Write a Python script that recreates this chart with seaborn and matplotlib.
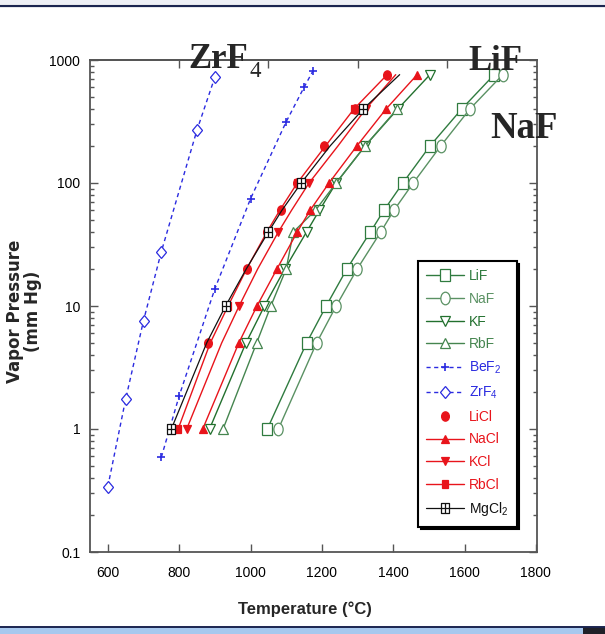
import matplotlib
matplotlib.use("Agg")
import numpy as np
import pandas as pd
import seaborn as sns
import matplotlib.pyplot as plt
from matplotlib.path import Path
from matplotlib.markers import MarkerStyle
from matplotlib.transforms import Affine2D
from matplotlib.patches import Rectangle
from matplotlib.lines import Line2D
from matplotlib.ticker import LogLocator, NullFormatter

sns.set_style("ticks")
plt.rcParams['font.family'] = ['Liberation Sans Narrow', 'Liberation Sans', 'DejaVu Sans']
plt.rcParams['mathtext.default'] = 'regular'

# ---------------- data (pressure in mm Hg, temperature in deg C) ----------------
pressure = [1, 5, 10, 20, 40, 60, 100, 200, 400, 760]
lif_T = [1047, 1157, 1212, 1270, 1336, 1374, 1427, 1503, 1592, 1683]
naf_T = [1078, 1185, 1240, 1299, 1365, 1402, 1456, 1533, 1615, 1707]
kf_T = [885, 987, 1039, 1096, 1157, 1193, 1240, 1321, 1413, 1503]
rbf_P = [1, 5, 10, 20, 40, 60, 100, 200, 400]
rbf_T = [923, 1017, 1057, 1100, 1120, 1182, 1240, 1321, 1411]
bef2_T = [750, 800, 900, 1000, 1100, 1150, 1175]
bef2_P = [0.59, 1.86, 13.8, 74.5, 315, 600, 815]
zrf4_T = [600, 650, 700, 750, 850, 900]
zrf4_P = [0.34, 1.75, 7.6, 27.7, 270, 725]
licl_T = [783, 881, 932, 989, 1045, 1084, 1131, 1207, 1293, 1382]
nacl_T = [866, 967, 1018, 1074, 1131, 1167, 1220, 1298, 1380, 1467]
kcl_T = [821, 919, 968, 1020, 1078, 1115, 1164, 1245, 1323, 1407]
rbcl_T = [797, 887, 937, 989, 1046, 1082, 1131, 1210, 1290, 1383]
mgcl2_T = [778, 877, 930, 988, 1050, 1088, 1142, 1223, 1316, 1418]

x_ticks = [600, 800, 1000, 1200, 1400, 1600, 1800]
y_ticks = [0.1, 1, 10, 100, 1000]
y_tick_labels = ['0.1', '1', '10', '100', '1000']

# ---------------- styles ----------------
GREEN_LIF = '#2f7b3f'
GREEN_NAF = '#5a9163'
GREEN_KF = '#22702e'
GREEN_RBF = '#45854f'
BLUE = '#2b2be0'
RED = '#e8141b'
BLACK = '#111111'

def mk(base, sy=1.0):
    return MarkerStyle(base, transform=Affine2D().scale(1.0, sy))

boxplus_path = Path(
    [(-0.78, -1), (0.78, -1), (0.78, 1), (-0.78, 1), (-0.78, -1),
     (0, -1), (0, 1), (-0.78, 0), (0.78, 0)],
    [Path.MOVETO, Path.LINETO, Path.LINETO, Path.LINETO, Path.CLOSEPOLY,
     Path.MOVETO, Path.LINETO, Path.MOVETO, Path.LINETO])

fig = plt.figure(figsize=(6.05, 6.34), dpi=100)
ax = fig.add_axes([90 / 605, 1 - 552 / 634, 447 / 605, 492 / 634])
ax.set_yscale('log')


def draw(T, P, label, color, marker, ms, ls='-', face='white', markevery=None,
         lw=1.0, mew=0.9, zorder=2):
    kws = dict(color=color, marker=marker, markersize=ms, markerfacecolor=face,
               markeredgecolor=color, markeredgewidth=mew, linewidth=lw,
               linestyle=ls, label=label, zorder=zorder)
    if markevery is not None:
        kws['markevery'] = markevery
    df = pd.DataFrame({'T': T, 'P': P})
    sns.lineplot(data=df, x='T', y='P', ax=ax, sort=False, estimator=None,
                 legend=False, **kws)


draw(lif_T, pressure, 'LiF', GREEN_LIF, mk('s', 1.25), 6.7)
draw(naf_T, pressure, 'NaF', GREEN_NAF, mk('o', 1.35), 6.7)
draw(kf_T, pressure, 'KF', GREEN_KF, 'v', 7.7)
draw(rbf_T, rbf_P, 'RbF', GREEN_RBF, '^', 7.7)
draw(bef2_T, bef2_P, 'BeF$_2$', BLUE, '+', 6.4, ls=(0, (3, 2.5)), mew=1.2, zorder=3)
draw(zrf4_T, zrf4_P, 'ZrF$_4$', BLUE, mk('D', 1.3), 4.6, ls=(0, (3, 2.5)), zorder=3)
draw(rbcl_T, pressure, 'RbCl_tmp', RED, mk('s', 1.25), 4.8, face=RED, markevery=2, zorder=3)
draw(licl_T, pressure, 'LiCl', RED, mk('o', 1.2), 5.6, ls='None', face=RED, zorder=4)
draw(nacl_T, pressure, 'NaCl', RED, '^', 5.8, face=RED, zorder=3)
draw(kcl_T, pressure, 'KCl', RED, 'v', 5.8, face=RED, markevery=2, zorder=3)
draw(mgcl2_T, pressure, 'MgCl$_2$', BLACK, MarkerStyle(boxplus_path), 7.8,
     markevery=2, lw=0.9, zorder=5)

# ---------------- axes ----------------
ax.set_xlim(550, 1803)
ax.set_ylim(0.1, 1000)
ax.set_xticks(x_ticks)
ax.set_xticklabels([str(v) for v in x_ticks])
ax.set_yticks(y_ticks)
ax.set_yticklabels(y_tick_labels)
ax.yaxis.set_minor_locator(LogLocator(base=10, subs=np.arange(2, 10)))
ax.yaxis.set_minor_formatter(NullFormatter())
ax.xaxis.set_minor_locator(matplotlib.ticker.NullLocator())

SPINE = '#555555'
for s in ax.spines.values():
    s.set_color(SPINE)
    s.set_linewidth(1.3)
ax.tick_params(axis='both', which='both', direction='in', colors=SPINE,
               labelcolor='black', width=1.0)
ax.tick_params(axis='y', which='both', left=True, right=True, labelsize=10, pad=7)
ax.tick_params(axis='y', which='major', length=5.5)
ax.tick_params(axis='y', which='minor', length=3.2)
ax.tick_params(axis='x', which='major', length=6, labelsize=10, pad=10, top=False)

sec = ax.secondary_xaxis('top')
sec.set_xticks([800, 1050, 1300, 1550])
sec.tick_params(direction='in', length=6, colors=SPINE, labeltop=False, width=1.0)
sec.spines['top'].set_color(SPINE)
sec.spines['top'].set_linewidth(1.3)

ax.set_xlabel('Temperature (°C)', fontsize=12, fontweight='bold')
ax.xaxis.set_label_coords(0.481, -0.1)
ax.xaxis.label.set_va('top')
ax.set_ylabel('Vapor Pressure\n(mm Hg)', fontsize=12, fontweight='bold',
              family=['DejaVu Sans'], linespacing=1.0)
ax.yaxis.set_label_coords(-0.108, 0.49)

# ---------------- legend ----------------
handles, labels = ax.get_legend_handles_labels()
labels = ['RbCl' if l == 'RbCl_tmp' else l for l in labels]
order = ['LiF', 'NaF', 'KF', 'RbF', 'BeF$_2$', 'ZrF$_4$', 'LiCl', 'NaCl', 'KCl', 'RbCl', 'MgCl$_2$']
hmap = dict(zip(labels, handles))
hs = [hmap[o] for o in order]
leg = ax.legend(hs, order, loc='upper left', bbox_to_anchor=(0.734, 0.5915),
                borderaxespad=0, frameon=True, fancybox=False,
                shadow={'facecolor': 'black', 'edgecolor': 'black', 'alpha': 1.0},
                fontsize=10, handlelength=2.7, handletextpad=0.35,
                labelspacing=0.62, borderpad=0.6, numpoints=1,
                labelcolor='linecolor', framealpha=1)
leg.get_frame().set_edgecolor('black')
leg.get_frame().set_linewidth(1.5)
leg.set_zorder(10)

# ---------------- slide annotations ----------------
serif = ['Liberation Serif', 'DejaVu Serif']
fig.text(188 / 605, 1 - 68 / 634, 'ZrF', family=serif, fontweight='bold', fontsize=25, va='baseline', ha='left')
fig.text(250 / 605, 1 - 77 / 634, '4', family=serif, fontsize=16.5, va='baseline', ha='left')
fig.text(468 / 605, 1 - 70 / 634, 'LiF', family=serif, fontweight='bold', fontsize=25, va='baseline', ha='left')
fig.text(490 / 605, 1 - 138 / 634, 'NaF', family=serif, fontweight='bold', fontsize=26.5, va='baseline', ha='left')

# slide border decorations
fig.add_artist(Rectangle((0, 1 - 4 / 634), 1, 4 / 634, transform=fig.transFigure, color='#eef0f6', lw=0))
fig.add_artist(Line2D([0, 1], [1 - 5.5 / 634] * 2, transform=fig.transFigure, color='#1b2550', lw=1.6))
fig.add_artist(Rectangle((0, 0), 1, 7 / 634, transform=fig.transFigure, color='#a7c8ee', lw=0))
fig.add_artist(Rectangle((583 / 605, 0), 22 / 605, 7 / 634, transform=fig.transFigure, color='#202028', lw=0))
fig.add_artist(Line2D([0, 1], [7.5 / 634] * 2, transform=fig.transFigure, color='#1b2550', lw=1.4))

fig.savefig('out.png', dpi=100)
